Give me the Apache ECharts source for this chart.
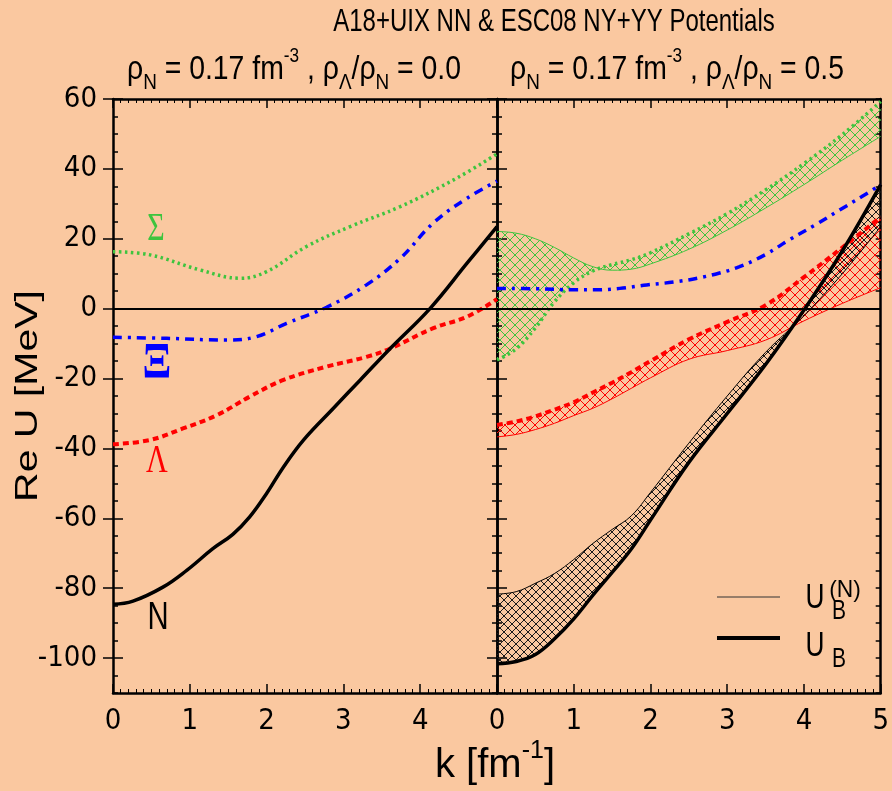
<!DOCTYPE html>
<html><head><meta charset="utf-8">
<script src="https://cdn.jsdelivr.net/npm/echarts@6/dist/echarts.min.js"></script>
<style>html,body{margin:0;padding:0;background:#FAC8A0;}#c{width:892px;height:791px;}</style>
</head><body><div id="c"></div>
<script>
// ---------- data ----------
const xTicks = [0, 1, 2, 3, 4, 5];
const yMajorTicks = [-100, -80, -60, -40, -20, 0, 20, 40, 60];
// left panel (rho_L/rho_N = 0.0): [k, ReU]
const sigmaLeft = [[0,16.3],[0.48,15.4],[1.13,11.1],[1.66,8.7],[2.0,10.6],[2.52,17.8],[3.09,23.5],[3.74,29.2],[4.48,37.4],[5,44.3]];
const xiLeft = [[0,-8.2],[0.7,-8.5],[1.48,-9.0],[1.87,-8.0],[2.26,-4.2],[2.78,0.4],[3.30,6.8],[3.74,14.4],[4.17,24.5],[4.61,31.6],[5,36.5]];
const lambdaLeft = [[0,-38.8],[0.48,-37.6],[0.91,-34.3],[1.35,-30.5],[1.78,-25.2],[2.22,-20.4],[2.78,-16.6],[3.30,-13.8],[3.61,-11.4],[4.17,-5.6],[4.61,-2.3],[5,2.7]];
const nucLeft = [[0,-84.6],[0.26,-83.7],[0.65,-79.7],[0.96,-74.9],[1.30,-68.7],[1.56,-64.6],[1.78,-59.6],[2.0,-52.9],[2.22,-45.3],[2.48,-37.6],[2.87,-28.5],[3.22,-20.4],[3.61,-11.4],[4.13,0.1],[4.61,13],[5,23.5]];
// right panel (rho_L/rho_N = 0.5)
const kRight = [0, 0.25, 0.5, 0.75, 1, 1.25, 1.5, 1.75, 2, 2.5, 3, 3.5, 4, 4.5, 5];
const sigmaUB  = [-14.7,-11.5,-5.5,2.0,7.4,10.8,12.6,14.0,16.0,21.4,27.2,34.0,41.5,49.8,59.3];
const sigmaUBN = [22.1,21.6,20.0,17.5,14.5,12.0,11.0,11.3,12.8,17.0,22.5,28.8,35.5,42.5,49.3];
const lambdaUB  = [-33.3,-32.3,-30.8,-28.9,-26.8,-24.0,-21.2,-18.2,-15.0,-8.8,-3.8,1.0,9.0,17.5,26.2];
const lambdaUBN = [-36.7,-36.0,-34.6,-32.8,-30.6,-28.5,-25.8,-22.8,-19.8,-14.5,-12.0,-9.0,-3.5,1.5,6.0];
const nucUB  = [-101.6,-101.0,-99.0,-94.5,-88.8,-82.0,-75.5,-68.8,-60.5,-44.0,-30.0,-16.0,-0.4,16.5,35.5];
const nucUBN = [-81.7,-81.0,-78.6,-75.8,-71.8,-67.2,-63.2,-59.3,-52.6,-38.5,-25.0,-12.5,-2.0,10.0,23.5];
const xiRight = [[0,5.8],[0.5,5.7],[1.0,5.4],[1.3,5.4],[1.6,5.8],[1.95,6.8],[2.3,7.6],[2.61,8.7],[2.9,10.2],[3.16,12],[3.5,15.5],[3.81,19.7],[4.15,24],[4.47,28.3],[4.75,32],[5,35.5]];

// ---------- style ----------
const BG = '#FAC8A0';
const GREEN = '#3ec43e', RED = '#ff0000', BLUE = '#0000ff', BLACK = '#000000';
const TICKFONT = '"Liberation Sans Narrow", "DejaVu Sans Condensed", sans-serif';
const FONT = '"Liberation Sans", Arial, sans-serif';
const SERIF = '"Liberation Serif", "DejaVu Serif", serif';
const SMOOTH = 0.4;

function hatch(color, s) {
  const c = document.createElement('canvas');
  c.width = s; c.height = s;
  const g = c.getContext('2d');
  g.strokeStyle = color; g.lineWidth = 1;
  for (const o of [-s, 0, s]) {
    g.beginPath(); g.moveTo(o, 0); g.lineTo(o + s, s); g.stroke();
    g.beginPath(); g.moveTo(o, s); g.lineTo(o + s, 0); g.stroke();
  }
  return { image: c, repeat: 'repeat' };
}

// same bezier construction as ECharts' smoothed line, sampled for a polygon outline
function smoothOutline(pts, smooth) {
  const out = [pts[0]];
  const n = pts.length;
  let cp0 = pts[0], ncp0 = null;
  for (let i = 1; i < n; i++) {
    const p = pts[i], prev = pts[i - 1];
    let cp1;
    if (i === n - 1) { cp1 = p; }
    else {
      const next = pts[i + 1];
      const vx = next[0] - prev[0], vy = next[1] - prev[1];
      const l0 = Math.hypot(p[0] - prev[0], p[1] - prev[1]);
      const l1 = Math.hypot(next[0] - p[0], next[1] - p[1]);
      const r = l1 / (l0 + l1 || 1);
      cp1 = [p[0] - vx * smooth * (1 - r), p[1] - vy * smooth * (1 - r)];
      ncp0 = [p[0] + vx * smooth * r, p[1] + vy * smooth * r];
    }
    for (let t = 1; t <= 12; t++) {
      const u = t / 12, a = (1 - u) * (1 - u) * (1 - u), b = 3 * u * (1 - u) * (1 - u), c = 3 * u * u * (1 - u), d = u * u * u;
      out.push([a * prev[0] + b * cp0[0] + c * cp1[0] + d * p[0], a * prev[1] + b * cp0[1] + c * cp1[1] + d * p[1]]);
    }
    if (i < n - 1) cp0 = ncp0;
  }
  return out;
}

const grids = [
  { left: 113, right: 395, top: 99, bottom: 98 },
  { left: 497, right: 11, top: 99, bottom: 98 }
];

const xAxes = [], yAxes = [];
grids.forEach((g, gi) => {
  ['bottom', 'top'].forEach(pos => {
    xAxes.push({
      type: 'value', gridIndex: gi, position: pos, min: 0, max: 5, interval: 1,
      axisLine: { show: true, onZero: false, lineStyle: { color: '#000', width: 2.5 } },
      axisTick: { show: true, inside: true, length: 9, lineStyle: { color: '#000', width: 1.5 } },
      minorTick: { show: true, splitNumber: 10, length: 4, lineStyle: { color: '#000', width: 1 } },
      splitLine: { show: false },
      axisLabel: {
        show: pos === 'bottom', margin: 14, color: '#000', fontSize: 29, fontFamily: TICKFONT,
        formatter: v => (gi === 0 && v === 5) ? '' : String(v)
      }
    });
  });
  ['left', 'right'].forEach(pos => {
    yAxes.push({
      type: 'value', gridIndex: gi, position: pos, min: -110, max: 60, interval: 5,
      axisLine: { show: true, onZero: false, lineStyle: { color: '#000', width: 2.5 } },
      axisTick: { show: true, inside: true, length: 5, lineStyle: { color: '#000', width: 1.5 } },
      splitLine: { show: false },
      axisLabel: {
        show: gi === 0 && pos === 'left', customValues: yMajorTicks, margin: 16,
        color: '#000', fontSize: 29, fontFamily: TICKFONT
      }
    });
    yAxes.push({
      type: 'value', gridIndex: gi, position: pos, min: -110, max: 60,
      axisLine: { show: false },
      axisTick: { show: true, inside: true, length: 10, customValues: yMajorTicks, lineStyle: { color: '#000', width: 1.5 } },
      splitLine: { show: false },
      axisLabel: { show: false }
    });
  });
});

function lineS(gi, data, color, width, type, extra) {
  return Object.assign({
    type: 'line', xAxisIndex: gi * 2, yAxisIndex: gi * 4, data: data,
    smooth: SMOOTH, symbol: 'none', silent: true, animation: false, z: 3,
    lineStyle: { color: color, width: width, type: type, cap: 'butt' }
  }, extra || {});
}
function pairs(ks, vs) { return ks.map((k, i) => [k, vs[i]]); }
function band(ubn, ub, color, s) {
  const fill = hatch(color, s);
  return {
    type: 'custom', xAxisIndex: 2, yAxisIndex: 4, clip: true, silent: true, z: 2,
    data: [[0, 0]],
    renderItem: function (params, api) {
      const up = smoothOutline(kRight.map((k, i) => api.coord([k, ub[i]])), SMOOTH);
      const lo = smoothOutline(kRight.map((k, i) => api.coord([k, ubn[i]])).reverse(), SMOOTH);
      return { type: 'polygon', shape: { points: up.concat(lo) }, style: { fill: fill, stroke: null } };
    }
  };
}

const zeroLine = {
  silent: true, symbol: 'none', label: { show: false }, animation: false,
  lineStyle: { color: '#000', width: 2, type: 'solid' }, data: [{ yAxis: 0 }]
};

const DOT = [2.5, 3.5], DASH = [6, 4], DASHDOT = [9, 6, 3, 6];

const series = [
  lineS(0, sigmaLeft, GREEN, 3.5, DOT, { markLine: zeroLine }),
  lineS(0, xiLeft, BLUE, 3.5, DASHDOT),
  lineS(0, lambdaLeft, RED, 4, DASH),
  lineS(0, nucLeft, BLACK, 3.5, 'solid'),
  band(sigmaUBN, sigmaUB, GREEN, 10),
  band(lambdaUBN, lambdaUB, RED, 10),
  band(nucUBN, nucUB, '#1a1a1a', 8),
  lineS(1, pairs(kRight, sigmaUBN), GREEN, 1, 'solid', { markLine: zeroLine }),
  lineS(1, pairs(kRight, sigmaUB), GREEN, 3.5, DOT),
  lineS(1, xiRight, BLUE, 3.5, DASHDOT),
  lineS(1, pairs(kRight, lambdaUBN), RED, 1, 'solid'),
  lineS(1, pairs(kRight, lambdaUB), RED, 4, DASH),
  lineS(1, pairs(kRight, nucUBN), BLACK, 1, 'solid'),
  lineS(1, pairs(kRight, nucUB), BLACK, 3.5, 'solid')
];

function txt(x, y, text, size, color, opts) {
  return Object.assign({
    type: 'text', x: x, y: y, scaleX: 0.75, silent: true,
    style: Object.assign({
      text: text, fontSize: size, fontFamily: FONT, fill: color || '#000',
      align: 'center', verticalAlign: 'middle', textAlign: 'center', textVerticalAlign: 'middle'
    }, (opts && opts.style) || {})
  }, (opts && opts.el) || {});
}
const subRich = (m) => ({
  m: { fontSize: m, lineHeight: m + 14, fontFamily: FONT, fill: '#000', color: '#000' },
  sb: { fontSize: Math.round(m * 0.68), lineHeight: Math.round(m * 0.68), verticalAlign: 'bottom', fontFamily: FONT, fill: '#000', color: '#000' },
  sp: { fontSize: Math.round(m * 0.62), lineHeight: Math.round(m * 0.62), verticalAlign: 'top', fontFamily: FONT, fill: '#000', color: '#000' }
});
const subLeft = '{m|ρ}{sb|N}{m| = 0.17 fm}{sp|-3}{m| , ρ}{sb|Λ}{m|/ρ}{sb|N}{m| = 0.0}';
const subRight = '{m|ρ}{sb|N}{m| = 0.17 fm}{sp|-3}{m| , ρ}{sb|Λ}{m|/ρ}{sb|N}{m| = 0.5}';

const graphic = [
  txt(554, 22, 'A18+UIX NN & ESC08 NY+YY Potentials', 32, '#000'),
  txt(294, 70, subLeft, 33, '#000', { style: { rich: subRich(33) }, el: { scaleX: 0.86 } }),
  txt(677, 70, subRight, 33, '#000', { style: { rich: subRich(33) }, el: { scaleX: 0.86 } }),
  txt(29, 396, 'Re U [MeV]', 41, '#000', { el: { rotation: Math.PI / 2, scaleX: 1, scaleY: 0.75 } }),
  txt(495, 766, '{m|k [fm}{sp|-1}{m|]}', 40, '#000', { style: { rich: subRich(40) }, el: { scaleX: 1 } }),
  txt(156, 229, 'Σ', 40, GREEN, { style: { fontFamily: SERIF } }),
  txt(157, 364, 'Ξ', 50, BLUE, { style: { fontFamily: SERIF, fontWeight: 'bold' }, el: { scaleX: 0.85 } }),
  txt(157, 461, 'Λ', 40, RED, { style: { fontFamily: SERIF } }),
  txt(158, 618, 'N', 39, '#000'),
  { type: 'line', silent: true, shape: { x1: 717, y1: 597, x2: 780, y2: 597 }, style: { stroke: '#333', lineWidth: 1.2 } },
  { type: 'line', silent: true, shape: { x1: 717, y1: 638, x2: 780, y2: 638 }, style: { stroke: '#000', lineWidth: 4 } },
  txt(815, 598, 'U', 35, '#000'),
  txt(839, 611, 'B', 28, '#000'),
  txt(845, 590, '(N)', 24, '#000', { el: { scaleX: 0.95 } }),
  txt(815, 646, 'U', 35, '#000'),
  txt(839, 659, 'B', 28, '#000')
];

const chart = echarts.init(document.getElementById('c'), null, { renderer: 'canvas' });
chart.setOption({
  backgroundColor: BG,
  animation: false,
  grid: grids,
  xAxis: xAxes,
  yAxis: yAxes,
  series: series,
  graphic: graphic
});
</script></body></html>
